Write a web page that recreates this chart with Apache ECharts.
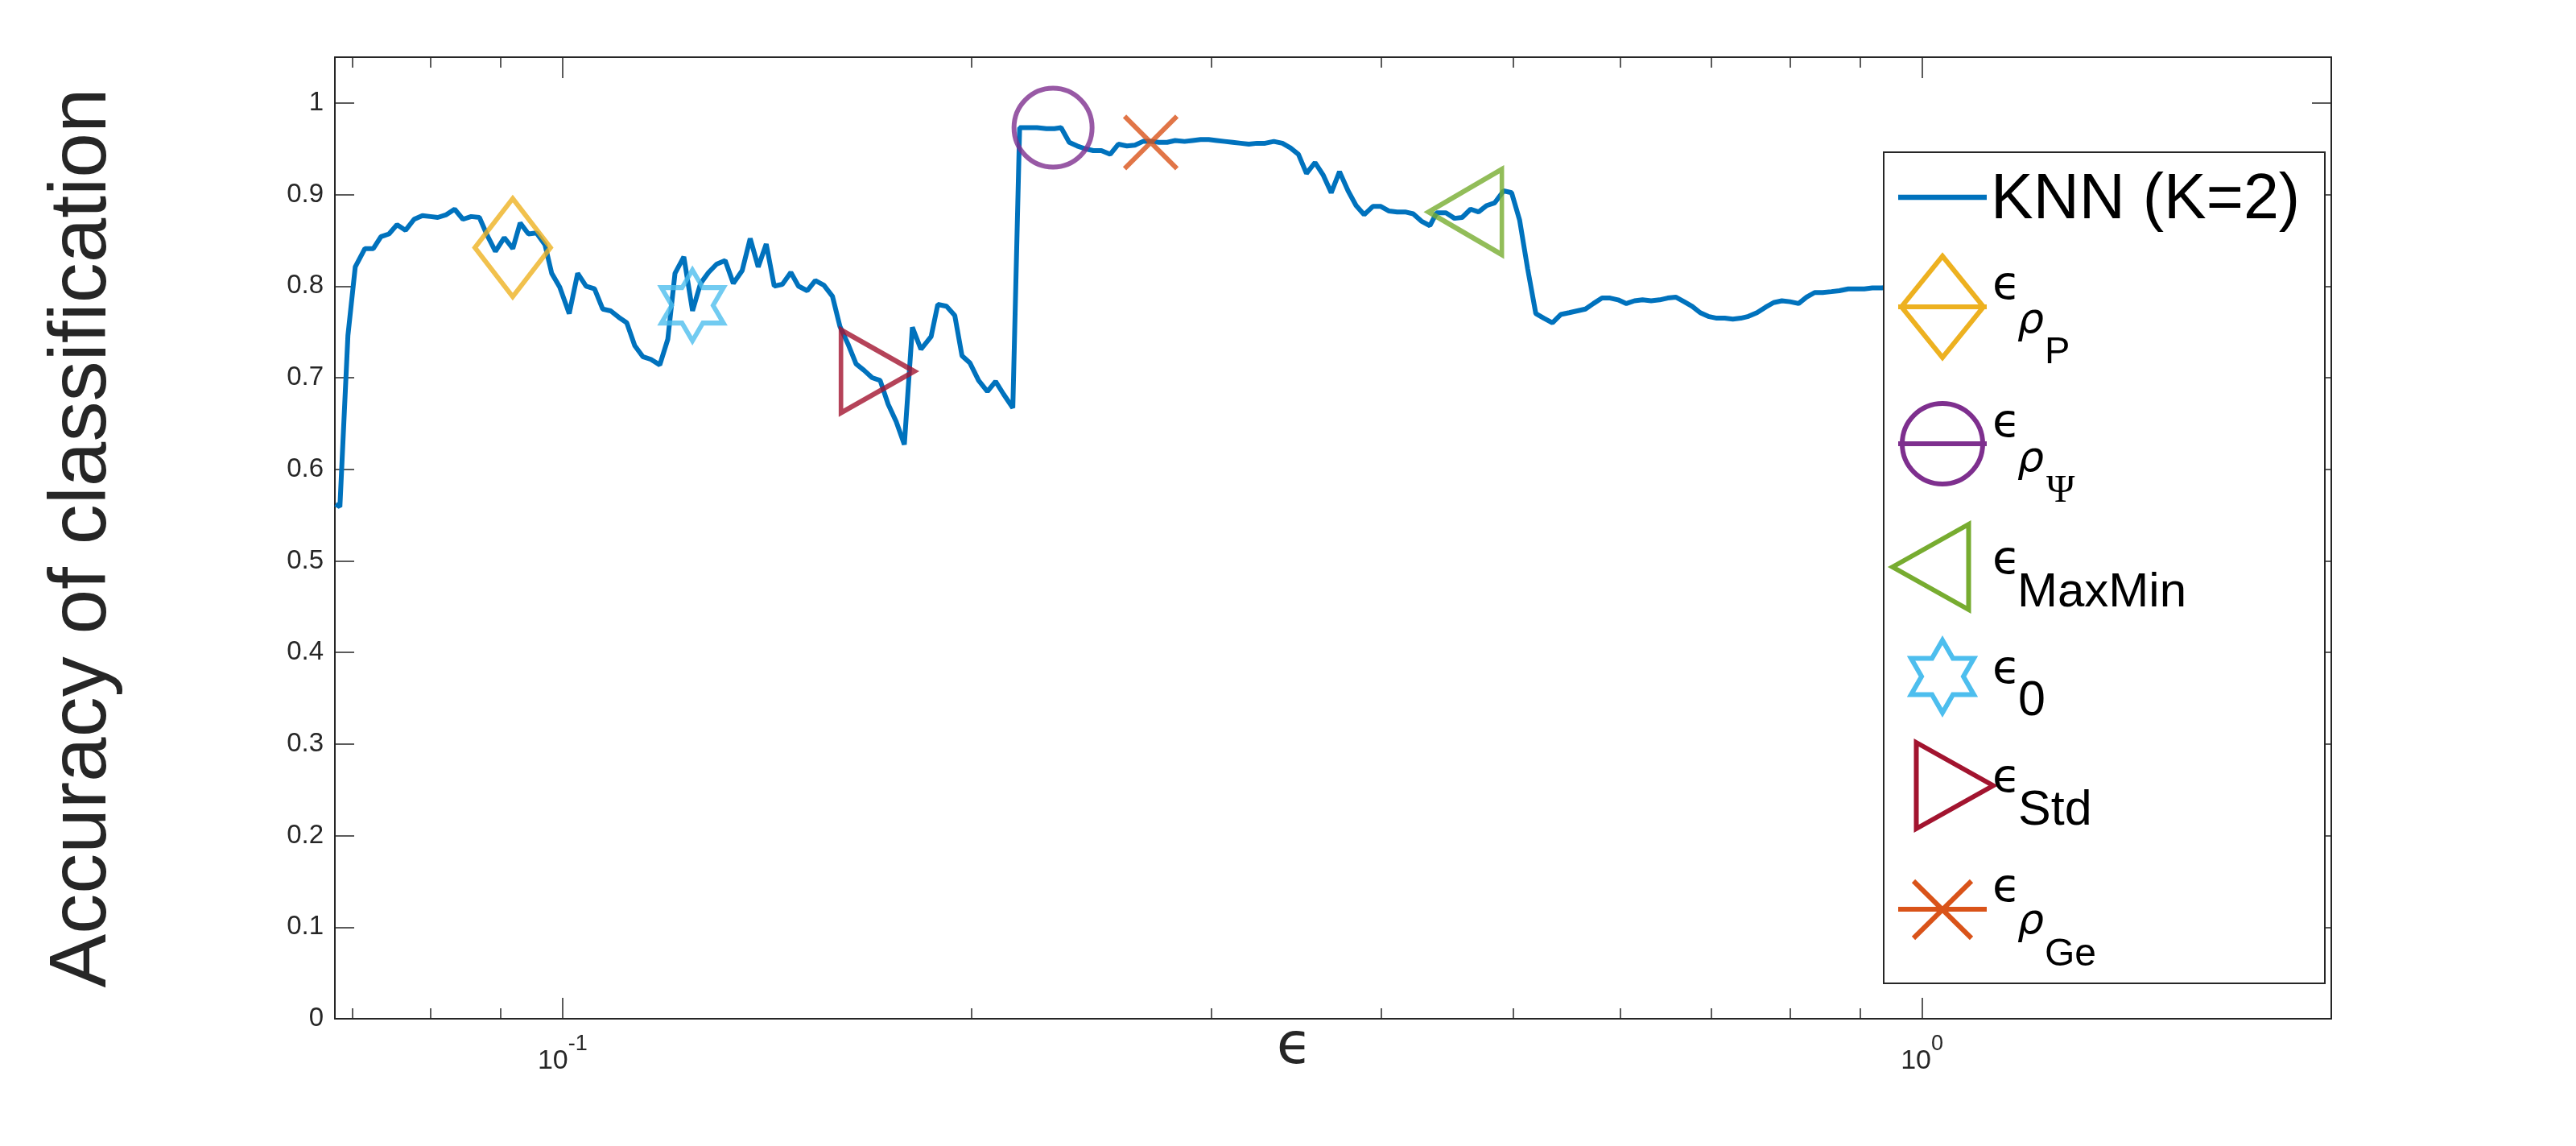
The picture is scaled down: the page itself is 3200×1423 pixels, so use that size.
<!DOCTYPE html>
<html>
<head>
<meta charset="utf-8">
<title>Accuracy of classification vs epsilon</title>
<script src="https://cdn.jsdelivr.net/npm/echarts@6/dist/echarts.min.js"></script>
<style>
  html, body { margin: 0; padding: 0; background: #fff; }
  #main { width: 3200px; height: 1423px; }
</style>
</head>
<body>
<div id="main"></div>
<script>
// KNN (K=2) curve: log10(epsilon) of every vertex
const epsLog10 = [
  -1.167, -1.1638, -1.1579, -1.1525, -1.1454, -1.1392, -1.1336, -1.1277, -1.1218, -1.1155,
  -1.1092, -1.1031, -1.0973, -1.0918, -1.0855, -1.0794, -1.0733, -1.0672, -1.0612, -1.0553,
  -1.0494, -1.0429, -1.0366, -1.0312, -1.0251, -1.0192, -1.0129, -1.0080, -1.0021, -0.9951,
  -0.9889, -0.9827, -0.9765, -0.9705, -0.9646, -0.9587, -0.9528, -0.9469, -0.9410, -0.9350,
  -0.9285, -0.9226, -0.9173, -0.9108, -0.9044, -0.8985, -0.8926, -0.8867, -0.8804, -0.8744,
  -0.8679, -0.8620, -0.8561, -0.8502, -0.8443, -0.8383, -0.8321, -0.8265, -0.8200, -0.8141,
  -0.8078, -0.8015, -0.7960, -0.7901, -0.7841, -0.7782, -0.7723, -0.7664, -0.7605, -0.7546,
  -0.7486, -0.7427, -0.7364, -0.7289, -0.7240, -0.7176, -0.7115, -0.7062, -0.7003, -0.6940,
  -0.6875, -0.6815, -0.6756, -0.6688, -0.6638, -0.6579, -0.6510, -0.6441, -0.6382, -0.6333,
  -0.6273, -0.6214, -0.6155, -0.6096, -0.6037, -0.5972, -0.5912, -0.5849, -0.5790, -0.5731,
  -0.5672, -0.5612, -0.5553, -0.5494, -0.5425, -0.5366, -0.5307, -0.5247, -0.5188, -0.5129,
  -0.5070, -0.5011, -0.4952, -0.4892, -0.4833, -0.4768, -0.4705, -0.4646, -0.4587, -0.4528,
  -0.4465, -0.4404, -0.4346, -0.4285, -0.4222, -0.4163, -0.4104, -0.4040, -0.3981, -0.3920,
  -0.3861, -0.3802, -0.3743, -0.3683, -0.3620, -0.3571, -0.3502, -0.3439, -0.3383, -0.3321,
  -0.3262, -0.3202, -0.3143, -0.3078, -0.3019, -0.2960, -0.2901, -0.2841, -0.2782, -0.2719,
  -0.2658, -0.2595, -0.2536, -0.2476, -0.2417, -0.2354, -0.2295, -0.2236, -0.2175, -0.2115,
  -0.2056, -0.1993, -0.1930, -0.1871, -0.1812, -0.1750, -0.1691, -0.1632, -0.1573, -0.1510,
  -0.1451, -0.1392, -0.1333, -0.1277, -0.1214, -0.1151, -0.1092, -0.1031, -0.0972, -0.0908,
  -0.0849, -0.0790, -0.0731, -0.0667, -0.0608, -0.0543, -0.0484, -0.0425, -0.0366, -0.0297,
  -0.0240
];
const knnAccuracy = [
  0.562, 0.559, 0.746, 0.821, 0.841, 0.841, 0.854, 0.857, 0.867, 0.861,
  0.873, 0.877, 0.876, 0.875, 0.878, 0.884, 0.873, 0.876, 0.875, 0.855,
  0.838, 0.853, 0.841, 0.869, 0.857, 0.858, 0.845, 0.814, 0.799, 0.770,
  0.814, 0.800, 0.797, 0.775, 0.773, 0.766, 0.760, 0.735, 0.723, 0.720,
  0.714, 0.742, 0.814, 0.832, 0.773, 0.803, 0.815, 0.824, 0.828, 0.803,
  0.817, 0.852, 0.821, 0.846, 0.800, 0.802, 0.815, 0.800, 0.795, 0.806,
  0.801, 0.789, 0.756, 0.737, 0.715, 0.708, 0.700, 0.697, 0.671, 0.652,
  0.627, 0.755, 0.731, 0.745, 0.780, 0.778, 0.768, 0.724, 0.716, 0.697,
  0.685, 0.696, 0.682, 0.667, 0.973, 0.973, 0.973, 0.972, 0.972, 0.973,
  0.957, 0.953, 0.950, 0.948, 0.948, 0.944, 0.955, 0.953, 0.954, 0.958,
  0.958, 0.957, 0.957, 0.959, 0.958, 0.959, 0.960, 0.960, 0.959, 0.958,
  0.957, 0.956, 0.955, 0.956, 0.956, 0.958, 0.956, 0.951, 0.944, 0.923,
  0.935, 0.921, 0.902, 0.925, 0.904, 0.888, 0.878, 0.887, 0.887, 0.882,
  0.881, 0.881, 0.879, 0.871, 0.866, 0.880, 0.880, 0.874, 0.875, 0.884,
  0.881, 0.888, 0.891, 0.904, 0.902, 0.872, 0.819, 0.770, 0.765, 0.760,
  0.769, 0.771, 0.773, 0.775, 0.781, 0.787, 0.787, 0.785, 0.781, 0.784,
  0.785, 0.784, 0.785, 0.787, 0.788, 0.783, 0.778, 0.771, 0.767, 0.765,
  0.765, 0.764, 0.765, 0.767, 0.771, 0.777, 0.782, 0.784, 0.783, 0.781,
  0.788, 0.793, 0.793, 0.794, 0.795, 0.797, 0.797, 0.797, 0.798, 0.798,
  0.799
];

// selected epsilon values (one marker each)
const markerNames = ['eps_rhoP', 'eps_rhoPsi', 'eps_MaxMin', 'eps_0', 'eps_Std', 'eps_rhoGe'];
const markerEps = [0.0919, 0.2295, 0.4613, 0.1246, 0.1705, 0.2708];
const markerAcc = [0.842, 0.973, 0.881, 0.779, 0.707, 0.957];

// axis ticks
const xMin = 0.068, xMax = 2;
const xMajorTicks = [0.1, 1];
const xMinorTicks = [0.07, 0.08, 0.09, 0.2, 0.3, 0.4, 0.5, 0.6, 0.7, 0.8, 0.9];
const yTicks = [0, 0.1, 0.2, 0.3, 0.4, 0.5, 0.6, 0.7, 0.8, 0.9, 1];

const axisColor = '#262626';
const lineBlue = '#0072BD';
const markerColors = ['#EDB120', '#7E2F8E', '#77AC30', '#4DBEEE', '#A2142F', '#D95319'];
const markerSymbols = [
  'path://M50 0 L100 50 L50 100 L0 50 Z',
  'circle',
  'path://M100 0 L0 50 L100 100 Z',
  'path://M86.6 0 L115.5 50 L173.2 50 L144.3 100 L173.2 150 L115.5 150 L86.6 200 L57.7 150 L0 150 L28.9 100 L0 50 L57.7 50 Z',
  'path://M0 0 L100 50 L0 100 Z',
  'path://M0 0 L100 100 M100 0 L0 100'
];
const markerSizes = [[94, 122], [97, 98], [91, 106], [77, 88], [91, 103], [65, 65]];
const markerStroke = 6;

function xAxisDef(position, ticks, tickLen, opts) {
  return Object.assign({
    type: 'log',
    logBase: 10,
    min: xMin,
    max: xMax,
    position: position,
    axisLine: { show: true, onZero: false, lineStyle: { color: axisColor, width: 2 } },
    axisTick: { show: true, inside: true, length: tickLen, customValues: ticks,
      lineStyle: { color: axisColor, width: 1.5 } },
    axisLabel: { show: false },
    splitLine: { show: false },
    minorTick: { show: false },
    minorSplitLine: { show: false }
  }, opts || {});
}

function yAxisDef(position, opts) {
  return Object.assign({
    type: 'value',
    min: 0,
    max: 1.05,
    position: position,
    axisLine: { show: true, onZero: false, lineStyle: { color: axisColor, width: 2 } },
    axisTick: { show: true, inside: true, length: 24, customValues: yTicks,
      lineStyle: { color: axisColor, width: 1.5 } },
    axisLabel: { show: false },
    splitLine: { show: false }
  }, opts || {});
}

const option = {
  backgroundColor: '#fff',
  animation: false,
  grid: { left: 416, top: 71, width: 2480, height: 1194, containLabel: false, outerBoundsMode: 'none' },
  xAxis: [
    xAxisDef('bottom', xMajorTicks, 26, {
      name: '\u03F5',
      nameLocation: 'middle',
      nameGap: 26,
      nameMoveOverlap: false,
      nameTextStyle: { fontFamily: 'DejaVu Sans', fontSize: 72, color: axisColor,
        lineHeight: 20, padding: [0, 96, 0, 0] },
      axisLabel: {
        show: true,
        customValues: xMajorTicks,
        margin: 18,
        formatter: function (v) { return v < 0.5 ? '{b|10}{s|-1}' : '{b|10}{s|0}'; },
        rich: {
          b: { fontFamily: 'Liberation Sans', fontSize: 34, lineHeight: 52, verticalAlign: 'bottom', color: axisColor },
          s: { fontFamily: 'Liberation Sans', fontSize: 27, lineHeight: 27, verticalAlign: 'top', color: axisColor }
        }
      }
    }),
    xAxisDef('bottom', xMinorTicks, 13, { axisLine: { show: false, onZero: false } }),
    xAxisDef('top', xMajorTicks, 26),
    xAxisDef('top', xMinorTicks, 13, { axisLine: { show: false, onZero: false } })
  ],
  yAxis: [
    yAxisDef('left', {
      name: 'Accuracy of classification',
      nameLocation: 'middle',
      nameGap: 263,
      nameMoveOverlap: false,
      nameRotate: 90,
      nameTextStyle: { fontFamily: 'Liberation Sans', fontSize: 100, color: axisColor },
      axisLabel: {
        show: true,
        customValues: yTicks,
        margin: 14,
        fontFamily: 'Liberation Sans',
        fontSize: 33,
        color: axisColor,
        formatter: function (v) { return String(Math.round(v * 10) / 10); }
      }
    }),
    yAxisDef('right')
  ],
  series: [
    {
      type: 'line',
      name: 'KNN (K=2)',
      xAxisIndex: 0,
      yAxisIndex: 0,
      data: epsLog10.map(function (e, i) { return [Math.pow(10, e), knnAccuracy[i]]; }),
      showSymbol: false,
      symbol: 'none',
      lineStyle: { color: lineBlue, width: 6 },
      itemStyle: { color: lineBlue },
      silent: true,
      z: 2
    }
  ].concat(markerNames.map(function (n, i) {
    return {
      type: 'scatter',
      name: n,
      xAxisIndex: 0,
      yAxisIndex: 0,
      data: [[markerEps[i], markerAcc[i]]],
      symbol: markerSymbols[i],
      symbolSize: markerSizes[i],
      itemStyle: { color: 'rgba(0,0,0,0)', borderColor: markerColors[i], borderWidth: markerStroke },
      emphasis: { disabled: true },
      silent: true,
      z: 3
    };
  }))
};

// legend box (drawn by hand, MATLAB style)
const G = [];
const Z = 100;
function gLine(x1, y1, x2, y2, color, w) {
  G.push({ type: 'line', z: Z, silent: true, shape: { x1: x1, y1: y1, x2: x2, y2: y2 },
    style: { stroke: color, lineWidth: w || markerStroke } });
}
function gPoly(points, color) {
  G.push({ type: 'polygon', z: Z, silent: true, shape: { points: points },
    style: { fill: 'none', stroke: color, lineWidth: markerStroke } });
}
function gText(x, y, text, size, family, italic) {
  G.push({ type: 'text', z: Z + 1, silent: true, x: x, y: y,
    style: { text: text, fontSize: size, fontFamily: family, fontStyle: italic ? 'italic' : 'normal',
      fill: '#000', align: 'left', verticalAlign: 'middle' } });
}
G.push({ type: 'rect', z: Z - 1, silent: true, shape: { x: 2340, y: 189, width: 548, height: 1032 },
  style: { fill: '#fff', stroke: axisColor, lineWidth: 2 } });

const EPS = '\u03F5', RHO = '\u03C1';
const epsFont = 'DejaVu Sans';

// KNN line
gLine(2358, 245, 2468, 245, lineBlue, 6.5);
gText(2473, 249, 'KNN (K=2)', 79, 'Liberation Sans');

// rho_P diamond
gPoly([[2413, 318], [2464, 381], [2413, 444], [2362, 381]], markerColors[0]);
gLine(2358, 381, 2468, 381, markerColors[0]);
gText(2475, 356, EPS, 57, epsFont);
gText(2506, 399, RHO, 52, epsFont, true);
gText(2540, 438, 'P', 47, 'Liberation Sans');

// rho_Psi circle
G.push({ type: 'circle', z: Z, silent: true, shape: { cx: 2413, cy: 551, r: 50 },
  style: { fill: 'none', stroke: markerColors[1], lineWidth: markerStroke } });
gLine(2358, 551, 2468, 551, markerColors[1]);
gText(2475, 527, EPS, 57, epsFont);
gText(2506, 571, RHO, 52, epsFont, true);
gText(2542, 610, '\u03A8', 48, 'Liberation Serif');

// MaxMin triangle
gPoly([[2351, 704], [2445.5, 651], [2445.5, 757]], markerColors[2]);
gText(2475, 697, EPS, 57, epsFont);
gText(2506, 736, 'MaxMin', 60, 'Liberation Sans');

// eps_0 hexagram
const hexUnit = [[0, -1], [0.2887, -0.5], [0.866, -0.5], [0.5774, 0], [0.866, 0.5], [0.2887, 0.5],
  [0, 1], [-0.2887, 0.5], [-0.866, 0.5], [-0.5774, 0], [-0.866, -0.5], [-0.2887, -0.5]];
gPoly(hexUnit.map(function (p) { return [2413 + p[0] * 45, 840 + p[1] * 45]; }), markerColors[3]);
gText(2475, 833, EPS, 57, epsFont);
gText(2507, 871, '0', 61, 'Liberation Sans');

// Std triangle
gPoly([[2380.5, 922], [2476, 975.5], [2380.5, 1029]], markerColors[4]);
gText(2475, 968, EPS, 57, epsFont);
gText(2507, 1007, 'Std', 61, 'Liberation Sans');

// rho_Ge cross
gLine(2377, 1094, 2449, 1165, markerColors[5]);
gLine(2449, 1094, 2377, 1165, markerColors[5]);
gLine(2358, 1129, 2468, 1129, markerColors[5]);
gText(2475, 1104, EPS, 57, epsFont);
gText(2506, 1145, RHO, 52, epsFont, true);
gText(2540, 1186, 'Ge', 48, 'Liberation Sans');

option.graphic = { elements: G };

const chart = echarts.init(document.getElementById('main'));
chart.setOption(option);
</script>
</body>
</html>
